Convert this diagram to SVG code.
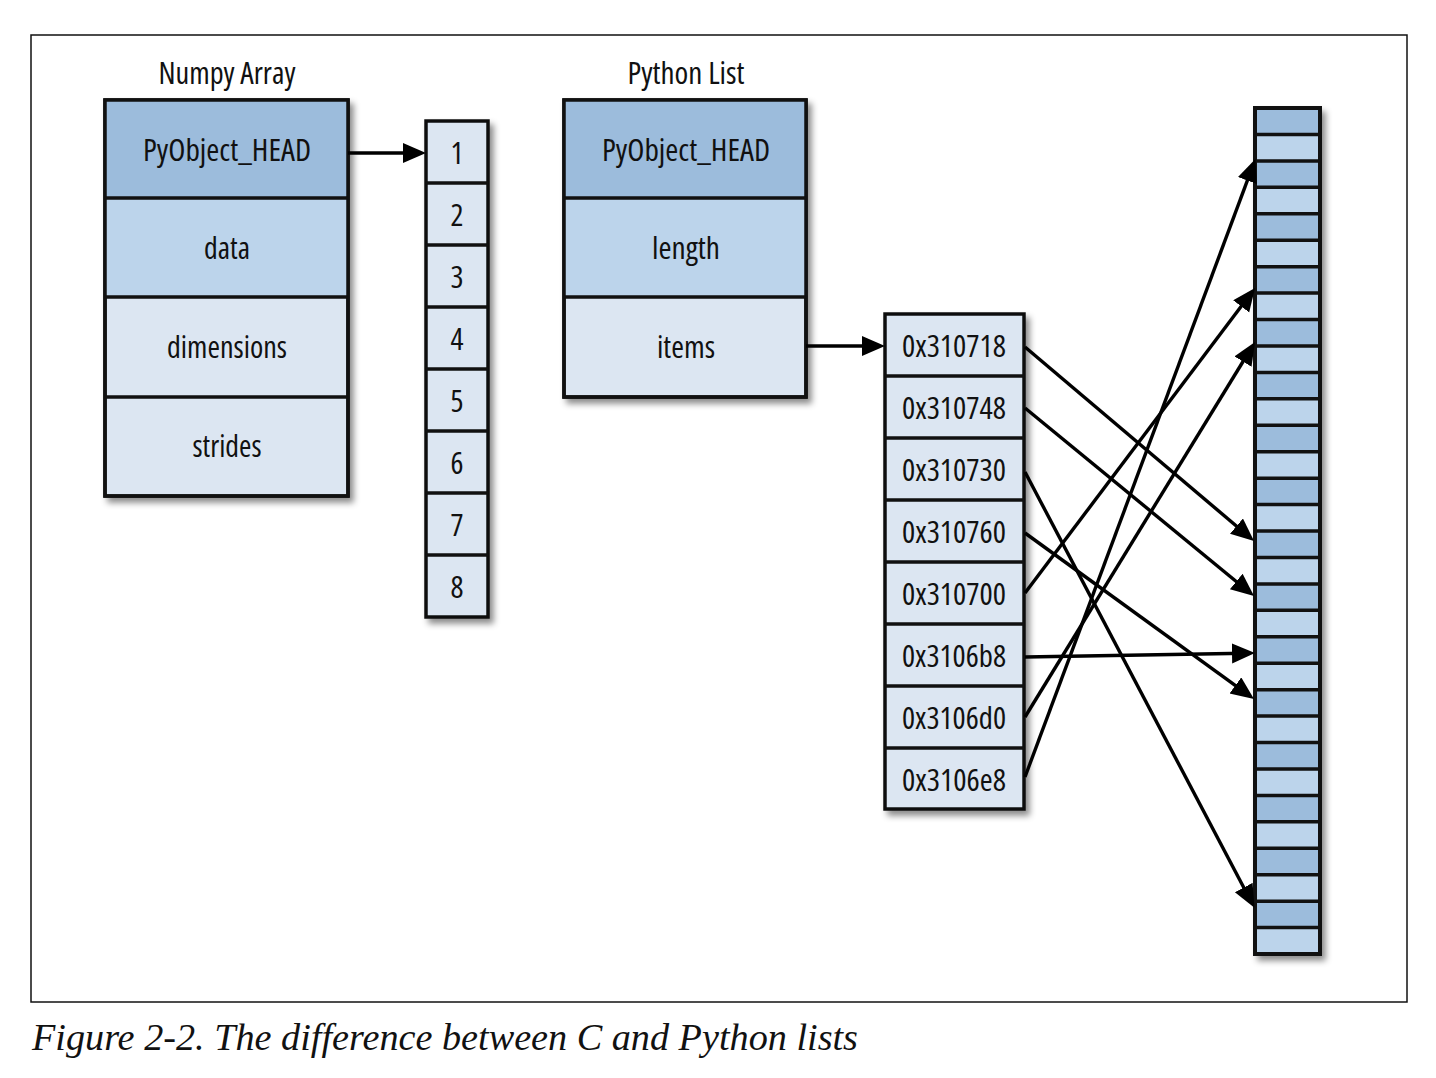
<svg xmlns="http://www.w3.org/2000/svg" width="1436" height="1078" viewBox="0 0 1436 1078">
<defs>
<style>
.t{font-family:"Open Sans","Liberation Sans",sans-serif;font-stretch:condensed;font-size:31px;fill:#111;text-anchor:middle}
.box{stroke:#111;stroke-width:3.5}
.dk{fill:#9cbcdc}
.md{fill:#bcd4eb}
.lt{fill:#dce6f2}
.div{stroke:#111;stroke-width:3.5}
.cn{stroke:#000;stroke-width:3.4;fill:none}
.cap{font-family:"Liberation Serif",serif;font-style:italic;font-size:38px;fill:#111}
</style>
<filter id="sh" x="-10%" y="-10%" width="130%" height="130%">
<feDropShadow dx="4" dy="5" stdDeviation="3" flood-color="#000" flood-opacity="0.45"/>
</filter>
<marker id="ah" markerUnits="userSpaceOnUse" markerWidth="26" markerHeight="22" refX="13" refY="10" orient="auto">
<path d="M0,0 L23,10 L0,20 Z" fill="#000"/>
</marker>
</defs>
<rect width="1436" height="1078" fill="#fff"/>
<rect x="31" y="35" width="1376" height="967" fill="none" stroke="#111" stroke-width="1.5"/>

<g id="numpy-array">
<text class="t" x="227" y="84" textLength="137" lengthAdjust="spacingAndGlyphs">Numpy Array</text>
<g filter="url(#sh)">
<rect x="105" y="100" width="243" height="396" class="lt box"/>
</g>
<rect x="105" y="100" width="243" height="98" class="dk"/>
<rect x="105" y="198" width="243" height="99" class="md"/>
<rect x="105" y="100" width="243" height="396" fill="none" class="box"/>
<line x1="105" y1="198" x2="348" y2="198" class="div"/>
<line x1="105" y1="297" x2="348" y2="297" class="div"/>
<line x1="105" y1="397" x2="348" y2="397" class="div"/>
<text class="t" x="227" y="161" textLength="168" lengthAdjust="spacingAndGlyphs">PyObject_HEAD</text>
<text class="t" x="227" y="259" textLength="46" lengthAdjust="spacingAndGlyphs">data</text>
<text class="t" x="227" y="358" textLength="120" lengthAdjust="spacingAndGlyphs">dimensions</text>
<text class="t" x="227" y="457" textLength="69" lengthAdjust="spacingAndGlyphs">strides</text>
</g>

<g id="numbers">
<g filter="url(#sh)">
<rect x="426" y="121" width="62" height="496" class="lt box"/>
</g>
<line x1="426" y1="183" x2="488" y2="183" class="div"/>
<line x1="426" y1="245" x2="488" y2="245" class="div"/>
<line x1="426" y1="307" x2="488" y2="307" class="div"/>
<line x1="426" y1="369" x2="488" y2="369" class="div"/>
<line x1="426" y1="431" x2="488" y2="431" class="div"/>
<line x1="426" y1="493" x2="488" y2="493" class="div"/>
<line x1="426" y1="555" x2="488" y2="555" class="div"/>
<text class="t" x="457" y="164" textLength="13" lengthAdjust="spacingAndGlyphs">1</text>
<text class="t" x="457" y="226" textLength="13" lengthAdjust="spacingAndGlyphs">2</text>
<text class="t" x="457" y="288" textLength="13" lengthAdjust="spacingAndGlyphs">3</text>
<text class="t" x="457" y="350" textLength="13" lengthAdjust="spacingAndGlyphs">4</text>
<text class="t" x="457" y="412" textLength="13" lengthAdjust="spacingAndGlyphs">5</text>
<text class="t" x="457" y="474" textLength="13" lengthAdjust="spacingAndGlyphs">6</text>
<text class="t" x="457" y="536" textLength="13" lengthAdjust="spacingAndGlyphs">7</text>
<text class="t" x="457" y="598" textLength="13" lengthAdjust="spacingAndGlyphs">8</text>
</g>

<g id="python-list">
<text class="t" x="686" y="84" textLength="117" lengthAdjust="spacingAndGlyphs">Python List</text>
<g filter="url(#sh)">
<rect x="564" y="100" width="242" height="297" class="lt box"/>
</g>
<rect x="564" y="100" width="242" height="98" class="dk"/>
<rect x="564" y="198" width="242" height="99" class="md"/>
<rect x="564" y="100" width="242" height="297" fill="none" class="box"/>
<line x1="564" y1="198" x2="806" y2="198" class="div"/>
<line x1="564" y1="297" x2="806" y2="297" class="div"/>
<text class="t" x="686" y="161" textLength="168" lengthAdjust="spacingAndGlyphs">PyObject_HEAD</text>
<text class="t" x="686" y="259" textLength="68" lengthAdjust="spacingAndGlyphs">length</text>
<text class="t" x="686" y="358" textLength="58" lengthAdjust="spacingAndGlyphs">items</text>
</g>

<g id="addresses">
<g filter="url(#sh)">
<rect x="885" y="314" width="139" height="495" class="lt box"/>
</g>
<line x1="885" y1="376" x2="1024" y2="376" class="div"/>
<line x1="885" y1="438" x2="1024" y2="438" class="div"/>
<line x1="885" y1="500" x2="1024" y2="500" class="div"/>
<line x1="885" y1="562" x2="1024" y2="562" class="div"/>
<line x1="885" y1="624" x2="1024" y2="624" class="div"/>
<line x1="885" y1="686" x2="1024" y2="686" class="div"/>
<line x1="885" y1="748" x2="1024" y2="748" class="div"/>
<text class="t" x="954" y="357" textLength="104" lengthAdjust="spacingAndGlyphs">0x310718</text>
<text class="t" x="954" y="419" textLength="104" lengthAdjust="spacingAndGlyphs">0x310748</text>
<text class="t" x="954" y="481" textLength="104" lengthAdjust="spacingAndGlyphs">0x310730</text>
<text class="t" x="954" y="543" textLength="104" lengthAdjust="spacingAndGlyphs">0x310760</text>
<text class="t" x="954" y="605" textLength="104" lengthAdjust="spacingAndGlyphs">0x310700</text>
<text class="t" x="954" y="667" textLength="104" lengthAdjust="spacingAndGlyphs">0x3106b8</text>
<text class="t" x="954" y="729" textLength="104" lengthAdjust="spacingAndGlyphs">0x3106d0</text>
<text class="t" x="954" y="791" textLength="104" lengthAdjust="spacingAndGlyphs">0x3106e8</text>
</g>

<g id="memory">
<g filter="url(#sh)">
<rect x="1255" y="108" width="65" height="846" class="md box"/>
</g>
<g class="dk">
<rect x="1255" y="108" width="65" height="26.44"/>
<rect x="1255" y="160.88" width="65" height="26.44"/>
<rect x="1255" y="213.75" width="65" height="26.44"/>
<rect x="1255" y="266.63" width="65" height="26.44"/>
<rect x="1255" y="319.5" width="65" height="26.44"/>
<rect x="1255" y="372.38" width="65" height="26.44"/>
<rect x="1255" y="425.25" width="65" height="26.44"/>
<rect x="1255" y="478.13" width="65" height="26.44"/>
<rect x="1255" y="531" width="65" height="26.44"/>
<rect x="1255" y="583.88" width="65" height="26.44"/>
<rect x="1255" y="636.75" width="65" height="26.44"/>
<rect x="1255" y="689.63" width="65" height="26.44"/>
<rect x="1255" y="742.5" width="65" height="26.44"/>
<rect x="1255" y="795.38" width="65" height="26.44"/>
<rect x="1255" y="848.25" width="65" height="26.44"/>
<rect x="1255" y="901.13" width="65" height="26.44"/>
</g>
<g class="div">
<line x1="1255" y1="134.44" x2="1320" y2="134.44"/>
<line x1="1255" y1="160.88" x2="1320" y2="160.88"/>
<line x1="1255" y1="187.31" x2="1320" y2="187.31"/>
<line x1="1255" y1="213.75" x2="1320" y2="213.75"/>
<line x1="1255" y1="240.19" x2="1320" y2="240.19"/>
<line x1="1255" y1="266.63" x2="1320" y2="266.63"/>
<line x1="1255" y1="293.06" x2="1320" y2="293.06"/>
<line x1="1255" y1="319.5" x2="1320" y2="319.5"/>
<line x1="1255" y1="345.94" x2="1320" y2="345.94"/>
<line x1="1255" y1="372.38" x2="1320" y2="372.38"/>
<line x1="1255" y1="398.81" x2="1320" y2="398.81"/>
<line x1="1255" y1="425.25" x2="1320" y2="425.25"/>
<line x1="1255" y1="451.69" x2="1320" y2="451.69"/>
<line x1="1255" y1="478.13" x2="1320" y2="478.13"/>
<line x1="1255" y1="504.56" x2="1320" y2="504.56"/>
<line x1="1255" y1="531" x2="1320" y2="531"/>
<line x1="1255" y1="557.44" x2="1320" y2="557.44"/>
<line x1="1255" y1="583.88" x2="1320" y2="583.88"/>
<line x1="1255" y1="610.31" x2="1320" y2="610.31"/>
<line x1="1255" y1="636.75" x2="1320" y2="636.75"/>
<line x1="1255" y1="663.19" x2="1320" y2="663.19"/>
<line x1="1255" y1="689.63" x2="1320" y2="689.63"/>
<line x1="1255" y1="716.06" x2="1320" y2="716.06"/>
<line x1="1255" y1="742.5" x2="1320" y2="742.5"/>
<line x1="1255" y1="768.94" x2="1320" y2="768.94"/>
<line x1="1255" y1="795.38" x2="1320" y2="795.38"/>
<line x1="1255" y1="821.81" x2="1320" y2="821.81"/>
<line x1="1255" y1="848.25" x2="1320" y2="848.25"/>
<line x1="1255" y1="874.69" x2="1320" y2="874.69"/>
<line x1="1255" y1="901.13" x2="1320" y2="901.13"/>
<line x1="1255" y1="927.56" x2="1320" y2="927.56"/>
</g>
<rect x="1255" y="108" width="65" height="846" fill="none" stroke="#111" stroke-width="4"/>
</g>

<g id="connectors" class="cn">
<line x1="348" y1="153" x2="416" y2="153" marker-end="url(#ah)"/>
<line x1="806" y1="346" x2="875" y2="346" marker-end="url(#ah)"/>
<line x1="1025" y1="347" x2="1246.4" y2="534.5" marker-end="url(#ah)"/>
<line x1="1025" y1="408" x2="1246.3" y2="589.7" marker-end="url(#ah)"/>
<line x1="1025" y1="472" x2="1249.8" y2="899.0" marker-end="url(#ah)"/>
<line x1="1025" y1="533" x2="1245.9" y2="693.1" marker-end="url(#ah)"/>
<line x1="1025" y1="593" x2="1249.0" y2="296.0" marker-end="url(#ah)"/>
<line x1="1025" y1="657" x2="1245" y2="653.2" marker-end="url(#ah)"/>
<line x1="1025" y1="717" x2="1249.8" y2="350.5" marker-end="url(#ah)"/>
<line x1="1025" y1="777" x2="1251.9" y2="168.4" marker-end="url(#ah)"/>
</g>

<text class="cap" x="32" y="1050" textLength="826" lengthAdjust="spacingAndGlyphs">Figure 2-2. The difference between C and Python lists</text>
</svg>
